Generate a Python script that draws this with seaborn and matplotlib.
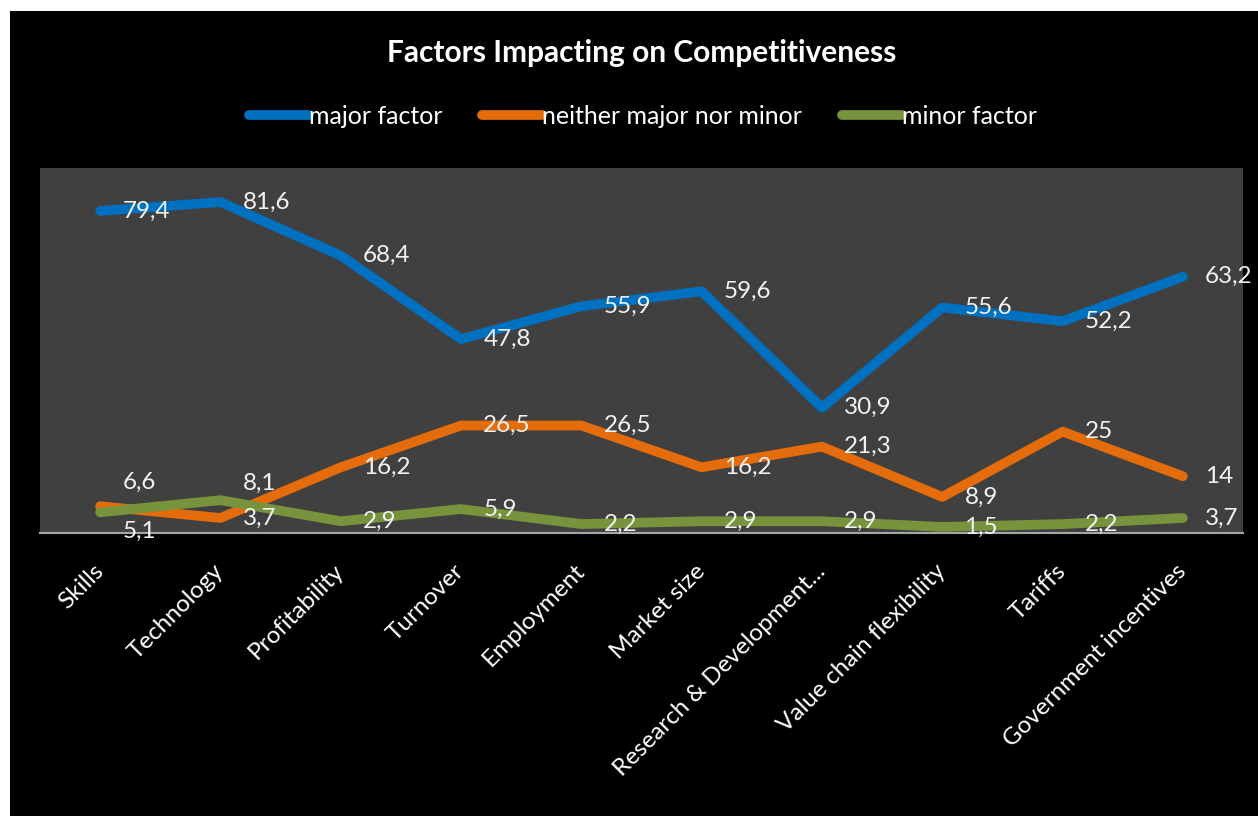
import matplotlib
matplotlib.use("Agg")
import matplotlib.pyplot as plt
import matplotlib.patches as mpatches
import pandas as pd
import seaborn as sns

categories = ["Skills", "Technology", "Profitability", "Turnover", "Employment",
              "Market size", "Research & Development...", "Value chain flexibility",
              "Tariffs", "Government incentives"]
major = [79.4, 81.6, 68.4, 47.8, 55.9, 59.6, 30.9, 55.6, 52.2, 63.2]
neither = [6.6, 3.7, 16.2, 26.5, 26.5, 16.2, 21.3, 8.9, 25, 14]
minor = [5.1, 8.1, 2.9, 5.9, 2.2, 2.9, 2.9, 1.5, 2.2, 3.7]
series_names = ["major factor", "neither major nor minor", "minor factor"]
colors = ["#0070C0", "#E46C0A", "#77933C"]

sns.set_style("dark")
plt.rcParams["font.family"] = ["Lato", "DejaVu Sans"]

df = pd.DataFrame({
    "category": categories * 3,
    "value": major + neither + minor,
    "series": [s for s in series_names for _ in categories],
})

W, H = 1258, 816
fig = plt.figure(figsize=(W / 100, H / 100), dpi=100, facecolor="white")
# black chart area behind everything
fig.patches.append(mpatches.Rectangle((10 / W, 0), 1 - 10 / W, 1 - 11 / H,
                                      transform=fig.transFigure, facecolor="black",
                                      edgecolor="none", zorder=-10))

ax = fig.add_axes([40 / W, (H - 533) / H, (1243 - 40) / W, (533 - 168) / H])
ax.set_zorder(1)
ax.set_facecolor("#404040")

sns.lineplot(data=df, x="category", y="value", hue="series", palette=colors,
             hue_order=series_names, sort=False, linewidth=7, ax=ax,
             legend=True)
for line in ax.get_lines():
    line.set_solid_capstyle("round")
    line.set_solid_joinstyle("round")

ax.set_xlim(-0.5, len(categories) - 0.5)
ax.set_ylim(0, 90)
ax.set_xlabel("")
ax.set_ylabel("")
ax.set_yticks([])
ax.grid(False)
for side in ["top", "left", "right"]:
    ax.spines[side].set_visible(False)
ax.spines["bottom"].set_visible(True)
ax.spines["bottom"].set_color("#A6A6A6")
ax.spines["bottom"].set_linewidth(1.5)

ax.set_xticks(range(len(categories)))
ax.set_xticklabels(categories, rotation=45, ha="right", va="center",
                   rotation_mode="anchor", color="white", fontsize=17.5)
ax.tick_params(axis="x", length=0, pad=25)

# value labels to the right of each point
def fmt(v):
    return f"{v:g}".replace(".", ",")

# (series index, category index) -> vertical shift in points for crowded labels
nudges = {(1, 0): 17, (2, 1): 12, (2, 0): -14}
for si, vals in enumerate([major, neither, minor]):
    for i, v in enumerate(vals):
        dy = nudges.get((si, i), 0)
        ax.annotate(fmt(v), (i, v), xytext=(16, dy), textcoords="offset points",
                    ha="left", va="center", color="#F2F2F2", fontsize=17.5,
                    annotation_clip=False)

handles, labels = ax.get_legend_handles_labels()
ax.get_legend().remove()
leg = fig.legend(handles, labels, loc="center", bbox_to_anchor=(643 / W, 1 - 116 / H),
                 ncol=3, frameon=False, fontsize=18, handlelength=2.4,
                 handletextpad=0.0, columnspacing=1.6)
for t in leg.get_texts():
    t.set_color("white")
for h in leg.legend_handles:
    h.set_linewidth(7)
    h.set_solid_capstyle("round")

fig.text(642 / W, 1 - 53 / H, "Factors Impacting on Competitiveness", ha="center",
         va="center", color="white", fontsize=21.5, fontweight="bold")

fig.savefig("out.png", dpi=100, facecolor=fig.get_facecolor())
